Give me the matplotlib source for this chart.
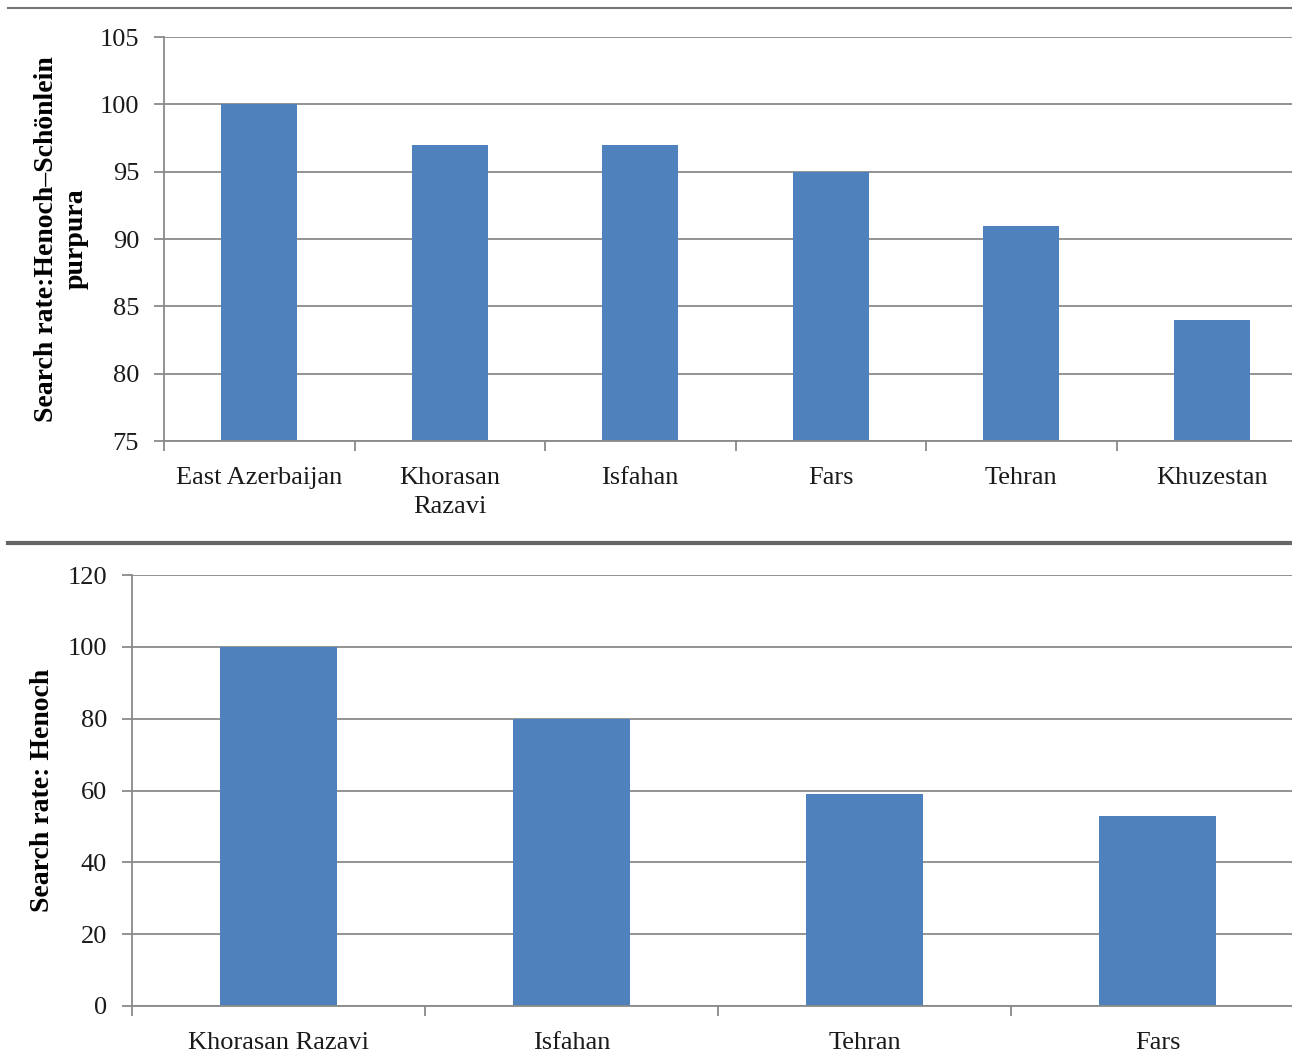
import numpy as np
import matplotlib.pyplot as plt
from matplotlib.lines import Line2D

# data
top_regions = ['East Azerbaijan', 'Khorasan\nRazavi', 'Isfahan', 'Fars', 'Tehran', 'Khuzestan']
top_values = [100, 97, 97, 95, 91, 84]
bottom_regions = ['Khorasan Razavi', 'Isfahan', 'Tehran', 'Fars']
bottom_values = [100, 80, 59, 53]

plt.rcParams['font.family'] = ['Liberation Serif', 'DejaVu Serif']

bar_color = '#4F81BD'
grid_color = '#8a8a8a'

W, H = 1292, 1055
fig = plt.figure(figsize=(W / 100, H / 100), dpi=100)
fig.patch.set_facecolor('white')


def style_axes(ax, n, ylim, yticks):
    ax.set_xlim(0, n)
    ax.set_ylim(*ylim)
    ax.set_yticks(yticks)
    ax.yaxis.grid(True, color=grid_color, linewidth=1.3)
    ax.set_axisbelow(True)
    for side in ['top', 'right']:
        ax.spines[side].set_visible(False)
    for side in ['left', 'bottom']:
        ax.spines[side].set_color(grid_color)
        ax.spines[side].set_linewidth(1.3)
    # category labels centred, ticks between categories
    ax.set_xticks(np.arange(n) + 0.5)
    ax.set_xticks(np.arange(n + 1), minor=True)
    ax.tick_params(axis='x', which='major', length=0, pad=19, labelsize=19,
                   labelcolor='#1a1a1a')
    ax.tick_params(axis='x', which='minor', length=7, color=grid_color, width=1.3)
    ax.tick_params(axis='y', length=7, color=grid_color, width=1.3, labelsize=19,
                   labelcolor='#1a1a1a', pad=11)


# top chart (category band ~190 px, axes runs past the right edge)
ax1 = fig.add_axes([164 / W, 1 - 441 / H, 6 * 190.5 / W, 404 / H])
x1 = np.arange(len(top_regions)) + 0.5
ax1.bar(x1, [v - 75 for v in top_values], bottom=75, width=0.40, color=bar_color)
style_axes(ax1, len(top_regions), (75, 105), np.arange(75, 106, 5))
ax1.set_xticklabels(top_regions, linespacing=1.4)
ax1.set_ylabel('Search rate:Henoch\u2013Sch\u00f6nlein\npurpura', fontsize=20,
               fontweight='bold', linespacing=1.25, labelpad=8)

# bottom chart
ax2 = fig.add_axes([132 / W, 1 - 1006 / H, 4 * 293 / W, 431 / H])
x2 = np.arange(len(bottom_regions)) + 0.5
ax2.bar(x2, bottom_values, width=0.40, color=bar_color)
style_axes(ax2, len(bottom_regions), (0, 120), np.arange(0, 121, 20))
ax2.set_xticklabels(bottom_regions)
ax2.set_ylabel('Search rate: Henoch', fontsize=20, fontweight='bold', labelpad=9)

# separator lines
fig.add_artist(Line2D([8 / W, 1], [1 - 8 / H, 1 - 8 / H], color='#777777', linewidth=1.5))
fig.add_artist(Line2D([8 / W, 1], [1 - 543 / H, 1 - 543 / H], color='#666666', linewidth=3))

fig.savefig('out.png', dpi=100)
